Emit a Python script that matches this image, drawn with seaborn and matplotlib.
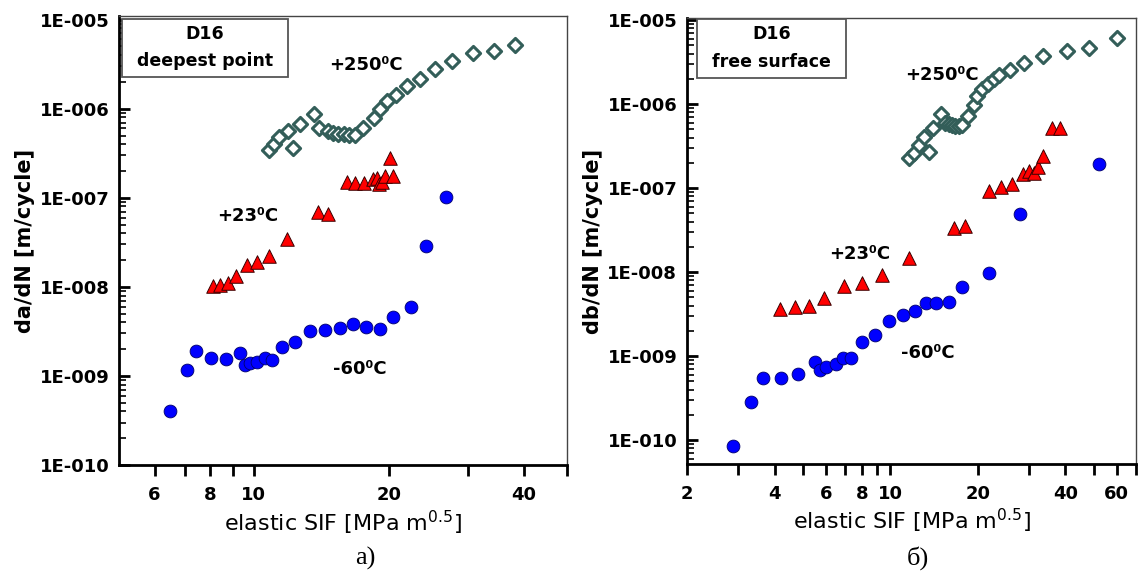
import numpy as np
import pandas as pd
import seaborn as sns
import matplotlib.pyplot as plt
from matplotlib.patches import Rectangle

# ---- data ----
# a) deepest point
a_250_sif = [10.8, 11.1, 11.4, 11.9, 12.2, 12.7, 13.6, 14.0, 14.6, 15.0, 15.4, 15.9, 16.3,
             16.8, 17.5, 18.5, 19.1, 19.8, 20.8, 22.0, 23.5, 25.4, 27.7, 30.8, 34.3, 38.3]
a_250_rate = [3.47e-7, 4.0e-7, 4.77e-7, 5.65e-7, 3.6e-7, 6.7e-7, 8.65e-7, 6.15e-7, 5.65e-7,
              5.4e-7, 5.27e-7, 5.19e-7, 5.06e-7, 5.06e-7, 6.15e-7, 7.94e-7, 9.84e-7, 1.22e-6,
              1.44e-6, 1.79e-6, 2.17e-6, 2.78e-6, 3.44e-6, 4.19e-6, 4.48e-6, 5.19e-6]
a_23_sif = [8.10, 8.40, 8.75, 9.12, 9.63, 10.18, 10.8, 11.83, 13.9, 14.6, 16.1, 16.8, 17.6,
            18.4, 18.8, 19.0, 19.3, 19.6, 20.4, 20.1]
a_23_rate = [1.03e-8, 1.06e-8, 1.10e-8, 1.34e-8, 1.77e-8, 1.88e-8, 2.25e-8, 3.44e-8, 7.0e-8,
             6.6e-8, 1.51e-7, 1.47e-7, 1.47e-7, 1.62e-7, 1.65e-7, 1.42e-7, 1.52e-7, 1.77e-7,
             1.77e-7, 2.79e-7]
a_m60_sif = [6.50, 7.08, 7.41, 8.04, 8.65, 9.31, 9.54, 9.80, 10.18, 10.56, 10.99, 11.57, 12.35,
             13.31, 14.38, 15.53, 16.63, 17.81, 19.16, 20.46, 22.44, 24.2, 26.8]
a_m60_rate = [4.04e-10, 1.17e-9, 1.92e-9, 1.61e-9, 1.54e-9, 1.83e-9, 1.33e-9, 1.39e-9, 1.45e-9,
              1.58e-9, 1.51e-9, 2.13e-9, 2.39e-9, 3.2e-9, 3.29e-9, 3.43e-9, 3.81e-9, 3.58e-9,
              3.35e-9, 4.57e-9, 6.0e-9, 2.86e-8, 1.01e-7]

# б) free surface
b_250_sif = [11.56, 12.03, 12.51, 13.01, 13.54, 14.02, 14.94, 15.45, 15.86, 16.29, 16.73, 17.17,
             17.64, 18.44, 19.33, 19.86, 20.66, 21.6, 22.65, 23.56, 25.8, 28.9, 33.6, 40.5,
             48.4, 60.3]
b_250_rate = [2.26e-7, 2.59e-7, 3.25e-7, 4.08e-7, 2.7e-7, 5.22e-7, 7.6e-7, 5.89e-7, 5.73e-7,
              5.62e-7, 5.52e-7, 5.52e-7, 5.62e-7, 7.2e-7, 9.72e-7, 1.24e-6, 1.5e-6, 1.73e-6,
              1.97e-6, 2.21e-6, 2.54e-6, 3.05e-6, 3.73e-6, 4.31e-6, 4.6e-6, 6.1e-6]
b_23_sif = [4.19, 4.72, 5.24, 5.93, 6.91, 8.01, 9.37, 11.56, 16.5, 18.1, 21.9, 24.0, 26.2, 28.6,
            29.9, 31.1, 32.3, 33.6, 36.1, 38.4]
b_23_rate = [3.6e-9, 3.8e-9, 3.99e-9, 4.94e-9, 6.8e-9, 7.46e-9, 9.2e-9, 1.47e-8, 3.4e-8, 3.53e-8,
             9.3e-8, 1.02e-7, 1.12e-7, 1.47e-7, 1.61e-7, 1.52e-7, 1.79e-7, 2.4e-7, 5.14e-7, 5.14e-7]
b_m60_sif = [2.88, 3.33, 3.65, 4.20, 4.80, 5.49, 5.75, 6.03, 6.51, 6.88, 7.33, 7.99, 8.88, 9.92,
             11.02, 12.19, 13.27, 14.39, 15.86, 17.68, 21.77, 27.97, 52.2]
b_m60_rate = [8.5e-11, 2.86e-10, 5.57e-10, 5.43e-10, 6.06e-10, 8.41e-10, 6.81e-10, 7.46e-10,
              7.96e-10, 9.55e-10, 9.55e-10, 1.48e-9, 1.78e-9, 2.63e-9, 3.08e-9, 3.46e-9, 4.24e-9,
              4.31e-9, 4.43e-9, 6.57e-9, 9.8e-9, 4.9e-8, 1.93e-7]

y_ticks = [1e-10, 1e-9, 1e-8, 1e-7, 1e-6, 1e-5]
y_labels = ['1E-010', '1E-009', '1E-008', '1E-007', '1E-006', '1E-005']
a_xticks = [6, 7, 8, 9, 10, 20, 30, 40, 50]
a_xlabels = ['6', '', '8', '', '10', '20', '', '40', '']
b_xticks = [2, 3, 4, 5, 6, 7, 8, 9, 10, 20, 30, 40, 50, 60, 70]
b_xlabels = ['2', '', '4', '', '6', '', '8', '', '10', '20', '', '40', '', '60', '']

sns.set_style('ticks')
plt.rcParams['font.family'] = ['DejaVu Sans']
for key in ['text.color', 'axes.labelcolor', 'xtick.color', 'ytick.color']:
    plt.rcParams[key] = 'black'

fig = plt.figure(figsize=(11.38, 5.77), dpi=100)
ax_a = fig.add_axes([0.1046, 0.1941, 0.3937, 0.7782])
ax_b = fig.add_axes([0.6037, 0.1958, 0.3946, 0.7730])

DIAM = '#335e59'


def draw(ax, hot, room, cold):
    sns.scatterplot(x=hot[0], y=hot[1], ax=ax, marker='D', s=52, color='white',
                    edgecolor=DIAM, linewidth=2.2, zorder=3)
    sns.scatterplot(x=room[0], y=room[1], ax=ax, marker='^', s=95, color='#ff0000',
                    edgecolor='#3a0000', linewidth=0.7, zorder=3)
    sns.scatterplot(x=cold[0], y=cold[1], ax=ax, marker='o', s=85, color='#0000ff',
                    edgecolor='#00006a', linewidth=0.6, zorder=3)


draw(ax_a, (a_250_sif, a_250_rate), (a_23_sif, a_23_rate), (a_m60_sif, a_m60_rate))
draw(ax_b, (b_250_sif, b_250_rate), (b_23_sif, b_23_rate), (b_m60_sif, b_m60_rate))


def style(ax, xlim, ylim, xt, xl, ylab):
    ax.set_xscale('log')
    ax.set_yscale('log')
    ax.set_xlim(*xlim)
    ax.set_ylim(*ylim)
    ax.set_xticks(xt)
    ax.set_xticklabels(xl)
    ax.xaxis.set_minor_locator(plt.NullLocator())
    ax.set_yticks(y_ticks)
    ax.set_yticklabels(y_labels)
    ax.yaxis.set_minor_locator(plt.LogLocator(base=10, subs=np.arange(2, 10)))
    ax.yaxis.set_minor_formatter(plt.NullFormatter())
    ax.tick_params(axis='x', direction='out', length=8, width=2, pad=7, labelsize=13)
    ax.tick_params(axis='y', which='major', direction='in', length=8, width=2, pad=7,
                   labelsize=13)
    ax.tick_params(axis='y', which='minor', direction='in', length=5, width=1.2)
    for lab in ax.get_xticklabels() + ax.get_yticklabels():
        lab.set_fontweight('bold')
    for side in ['left', 'bottom']:
        ax.spines[side].set_linewidth(2)
        ax.spines[side].set_color('black')
    for side in ['top', 'right']:
        ax.spines[side].set_linewidth(1)
        ax.spines[side].set_color('#444444')
    ax.set_xlabel(r'elastic SIF [MPa m$^{0.5}$]', fontsize=16)
    ax.xaxis.label.set_va('center')
    ax.xaxis.set_label_coords(0.5, -0.128)
    ax.set_ylabel(ylab, fontsize=15, fontweight='bold')
    ax.yaxis.label.set_va('center')
    ax.yaxis.set_label_coords(-0.21, 0.5)


style(ax_a, (5, 50), (1e-10, 1.1e-5), a_xticks, a_xlabels, 'da/dN [m/cycle]')
style(ax_b, (2, 70), (5.2e-11, 1.06e-5), b_xticks, b_xlabels, 'db/dN [m/cycle]')


def label_box(ax, x0, x1, y0, y1, lines):
    ax.add_patch(Rectangle((x0, y0), x1 - x0, y1 - y0, transform=ax.transAxes,
                           facecolor='white', edgecolor='#555555', linewidth=1.3,
                           zorder=5, clip_on=False))
    xc = (x0 + x1) / 2
    ax.text(xc, y1 - (y1 - y0) * 0.25, lines[0], transform=ax.transAxes, ha='center',
            va='center', fontsize=12.5, fontweight='bold', zorder=6)
    ax.text(xc, y1 - (y1 - y0) * 0.72, lines[1], transform=ax.transAxes, ha='center',
            va='center', fontsize=12.5, fontweight='bold', zorder=6)


label_box(ax_a, 0.007, 0.377, 0.864, 0.993, ['D16', 'deepest point'])
label_box(ax_b, 0.022, 0.354, 0.865, 0.998, ['D16', 'free surface'])

kw = dict(ha='center', va='center', fontsize=13, fontweight='bold')
ax_a.text(17.8, 3.1e-6, '+250\u2070C', **kw)
ax_a.text(9.68, 6.3e-8, '+23\u2070C', **kw)
ax_a.text(17.2, 1.2e-9, '-60\u2070C', **kw)
ax_b.text(15.1, 2.2e-6, '+250\u2070C', **kw)
ax_b.text(7.83, 1.64e-8, '+23\u2070C', **kw)
ax_b.text(13.5, 1.09e-9, '-60\u2070C', **kw)

fig.text(365 / 1138, 1 - 558 / 577, 'a)', family='Liberation Serif', fontsize=19,
         ha='center', va='center')
fig.text(918 / 1138, 1 - 558 / 577, 'б)', family='Liberation Serif', fontsize=19,
         ha='center', va='center')

fig.savefig('out.png', dpi=100)
